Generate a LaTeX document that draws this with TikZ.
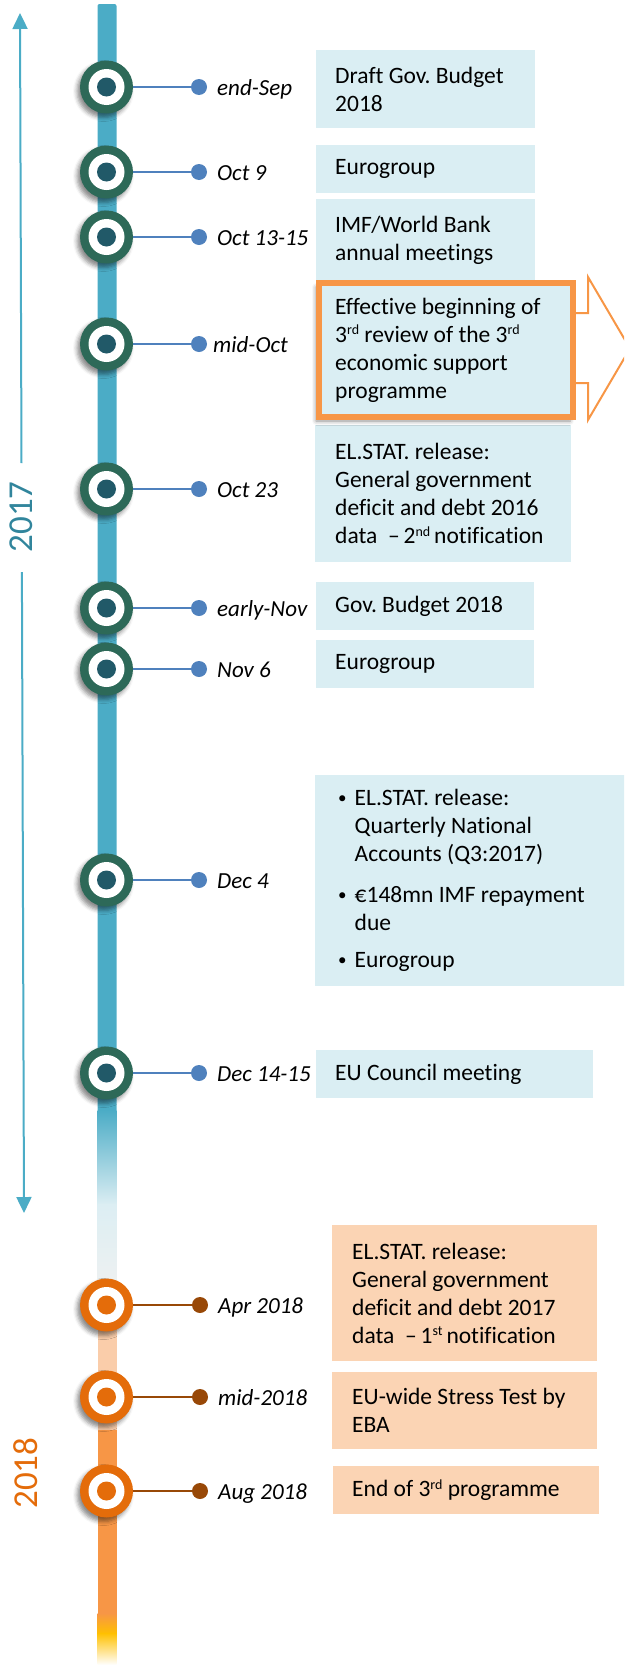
\documentclass[tikz,border=0pt]{standalone}
\usepackage{fontspec}
\setmainfont{Carlito}[Ligatures={NoCommon}]
\usetikzlibrary{shadows.blur,arrows.meta}
\definecolor{teal17}{HTML}{4BACC6}
\definecolor{yr17}{HTML}{31859C}
\definecolor{boxblue}{HTML}{DAEEF3}
\definecolor{boxpeach}{HTML}{FBD4B4}
\definecolor{ring17}{RGB}{45,105,88}
\definecolor{dot17}{HTML}{215968}
\definecolor{conn17}{HTML}{4F81BD}
\definecolor{ring18}{HTML}{E46C0A}
\definecolor{conn18}{HTML}{984807}
\definecolor{accorange}{HTML}{F79646}
\definecolor{barpeach}{HTML}{FACDAA}
\definecolor{barlight}{HTML}{DCEEF3}
\definecolor{bargrey}{HTML}{EFF1F1}
\definecolor{gold}{HTML}{FFC000}
\newcommand\itm{\makebox[16.5pt][l]{\raisebox{2pt}{\fontsize{17}{17}\selectfont•}}}
\newcommand\cnt{\hspace*{16.5pt}}
\newcommand\supr[1]{\raisebox{7.5pt}{\fontsize{14}{14}\selectfont #1}}
\tikzset{
 evA/.style={circle, fill=ring17, minimum size=53pt, inner sep=0pt,
   blur shadow={shadow xshift=-3pt, shadow yshift=-4pt, shadow blur radius=4pt, shadow opacity=45},
   path picture={\fill[white] (path picture bounding box.center) circle (18pt);
                 \fill[#1] (path picture bounding box.center) circle (9.5pt);}},
 evB/.style={evA=ring18, fill=ring18},
 tipA/.style={circle, fill=conn17, minimum size=16pt, inner sep=0pt},
 tipB/.style={tipA, fill=conn18},
 lnA/.style={conn17, line width=2pt},
 lnB/.style={conn18, line width=2pt},
 datelbl/.style={anchor=base west, inner sep=0pt, font=\fontsize{23}{27}\selectfont\itshape},
 boxA/.style={rectangle, fill=boxblue, anchor=north west, inner sep=0pt},
 boxB/.style={boxA, fill=boxpeach},
 boxtxt/.style={anchor=west, inner sep=0pt, align=left, font=\fontsize{23.5}{28}\selectfont\frenchspacing},
 yeararrow/.style={teal17, line width=2pt, -{Triangle[length=16pt,width=15pt]}},
}
\begin{document}
\begin{tikzpicture}[x=1pt,y=-1pt]
\useasboundingbox (0,0) rectangle (624,1665);
\clip (0,0) rectangle (624,1665);

% timeline bar
\fill[teal17, rounded corners=2pt] (97.5,4) rectangle (116.5,1112);
\shade[top color=teal17, bottom color=barlight] (97.5,1110) rectangle (116.5,1205);
\shade[top color=barlight, bottom color=bargrey] (97.5,1204) rectangle (116.5,1291);
\fill[barpeach] (97.5,1289) rectangle (116.5,1432);
\fill[accorange] (97.5,1430) rectangle (116.5,1614);
\shade[top color=accorange, bottom color=gold] (97.5,1613) rectangle (116.5,1634);
\shade[top color=gold, bottom color=white] (97.5,1633) rectangle (116.5,1665);

% year arrows
\coordinate (ya0) at (20,13);
\coordinate (ya1) at (21.5,463);
\coordinate (ya2) at (21.9,572);
\coordinate (ya3) at (24,1213);
\draw[yeararrow] (ya1) -- (ya0);
\draw[yeararrow] (ya2) -- (ya3);
\node[rotate=90, text=yr17, inner sep=0pt, font=\fontsize{35}{40}\selectfont] (y17) at (21,517) {2017};
\node[rotate=90, text=ring18, inner sep=0pt, font=\fontsize{35}{40}\selectfont] (y18) at (26,1473) {2018};

% boxes
\node[boxA, minimum width=219pt, minimum height=78pt] (b1) at (316,50) {};
\node[boxtxt] (t1) at ([xshift=19pt]b1.west) {Draft Gov. Budget\\2018};
\node[boxA, minimum width=219pt, minimum height=48pt] (b2) at (316,145) {};
\node[boxtxt] (t2) at ([xshift=19pt]b2.west) {Eurogroup};
\node[boxA, minimum width=219pt, minimum height=83pt] (b3) at (316,199) {};
\node[boxtxt] (t3) at ([xshift=19pt]b3.west) {IMF/World Bank\\annual meetings};
\node[boxA, minimum width=256pt, minimum height=137pt] (b5) at (315,425) {};
\node[boxtxt] (t5) at ([xshift=20pt]b5.west) {EL.STAT. release:\\General government\\deficit and debt 2016\\data~~–\,2\supr{nd}\,notification};

% highlighted box and arrow
\node[boxA, draw=accorange, line width=6pt, minimum width=254pt, minimum height=134pt,
  blur shadow={shadow xshift=-3pt, shadow yshift=-4pt, shadow blur radius=4pt, shadow opacity=45}] (b4) at (316,280) {};
\node[boxtxt] (t4) at ([xshift=19pt]b4.west) {Effective beginning of\\3\supr{rd} review of the 3\supr{rd}\\economic support\\programme};
\draw[accorange, line width=2pt, line join=miter] (573,313) -- (588,313) -- (588,277) -- (630,348.5) -- (588,420) -- (588,383) -- (573,383);

\node[boxA, minimum width=218pt, minimum height=48pt] (b6) at (316,582) {};
\node[boxtxt] (t6) at ([xshift=19pt]b6.west) {Gov. Budget 2018};
\node[boxA, minimum width=218pt, minimum height=48pt] (b7) at (316,640) {};
\node[boxtxt] (t7) at ([xshift=19pt]b7.west) {Eurogroup};
\node[boxA, minimum width=315pt, minimum height=211pt] (b8) at (315,775) {};
\node[boxtxt] (t8) at ([xshift=23pt]b8.west) {\itm EL.STAT. release:\\\cnt Quarterly National\\\cnt Accounts (Q3:2017)\\[13pt]\itm €148mn IMF repayment\\\cnt due\\[9pt]\itm Eurogroup};
\node[boxA, minimum width=277pt, minimum height=48pt] (b9) at (316,1050) {};
\node[boxtxt] (t9) at ([xshift=19pt]b9.west) {EU Council meeting};

\node[boxB, minimum width=265pt, minimum height=136pt] (b10) at (332,1225) {};
\node[boxtxt] (t10) at ([xshift=20pt]b10.west) {EL.STAT. release:\\General government\\deficit and debt 2017\\data~~–\,1\supr{st}\,notification};
\node[boxB, minimum width=265pt, minimum height=77pt] (b11) at (332,1372) {};
\node[boxtxt] (t11) at ([xshift=20pt]b11.west) {EU-wide Stress Test by\\EBA};
\node[boxB, minimum width=266pt, minimum height=48pt] (b12) at (333,1466) {};
\node[boxtxt] (t12) at ([xshift=19pt]b12.west) {End of 3\supr{rd} programme};

% events 2017
\foreach \i/\y/\lx/\txt in {1/87/217/end-Sep, 2/172/217/Oct 9, 3/237/217/Oct 13-15, 4/344/213/mid-Oct, 5/489/217/Oct 23, 6/608/217/early-Nov, 7/669/217/Nov 6, 8/880/217/Dec 4, 9/1073/217/Dec 14-15}{
  \node[evA=dot17] (c\i) at (106.5,\y) {};
  \node[tipA] (d\i) at (199,\y) {};
  \draw[lnA] (c\i) -- (d\i);
  \node[datelbl] (l\i) at (\lx,\y+8) {\txt};
}
% events 2018
\foreach \i/\y/\txt in {10/1305/Apr 2018, 11/1397/mid-2018, 12/1491/Aug 2018}{
  \node[evB] (c\i) at (106.5,\y) {};
  \node[tipB] (d\i) at (200,\y) {};
  \draw[lnB] (c\i) -- (d\i);
  \node[datelbl] (l\i) at (218,\y+8) {\txt};
}
\end{tikzpicture}
\end{document}
